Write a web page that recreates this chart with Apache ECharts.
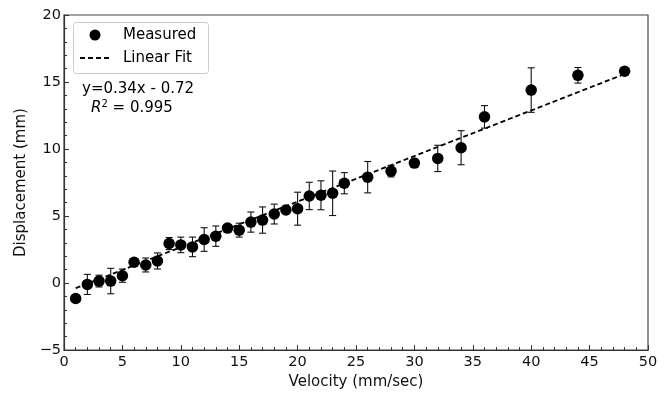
<!DOCTYPE html>
<html><head><meta charset="utf-8">
<script src="https://cdn.jsdelivr.net/npm/echarts@6/dist/echarts.min.js"></script>
<style>html,body{margin:0;padding:0;background:#fff}#c{width:667px;height:395px}</style>
</head><body><div id="c"></div>
<script>
var velocity = [1,2,3,4,5,6,7,8,9,10,11,12,13,14,15,16,17,18,19,20,21,22,23,24,26,28,30,32,34,36,40,44,48];
var displacement = [-1.15,-0.1,0.15,0.15,0.55,1.55,1.35,1.65,2.95,2.85,2.7,3.25,3.5,4.1,3.95,4.55,4.7,5.15,5.45,5.55,6.5,6.55,6.7,7.45,7.9,8.35,8.95,9.3,10.1,12.4,14.4,15.5,15.8];
var errors = [0.2,0.75,0.44,0.95,0.49,0.12,0.52,0.6,0.45,0.58,0.73,0.88,0.76,0.27,0.52,0.75,0.98,0.74,0.2,1.23,1.02,1.08,1.66,0.79,1.17,0.43,0.2,0.98,1.27,0.84,1.66,0.58,0.15];
var fitX = [1, 48];
var fitY = [-0.38, 15.6];
var legendNames = ['Measured', 'Linear Fit'];
var fitLabel = 'y=0.34x - 0.72';
var r2Label = '0.995';

var font = 'DejaVu Sans';
var chart = echarts.init(document.getElementById('c'));
var pts = velocity.map(function(v,i){return [v, displacement[i]];});
var errData = velocity.map(function(v,i){return [v, displacement[i]-errors[i], displacement[i]+errors[i]];});
var fitData = fitX.map(function(v,i){return [v, fitY[i]];});
chart.setOption({
  animation:false,
  textStyle:{fontFamily:font},
  grid:{left:64,top:15,right:19,bottom:41,show:true,borderColor:'#444',borderWidth:1.2,backgroundColor:'transparent'},
  xAxis:{type:'value',min:0,max:50,interval:5,
    name:'Velocity (mm/sec)',nameLocation:'middle',nameGap:22,
    nameTextStyle:{fontFamily:font,fontSize:15,color:'#111'},
    axisLine:{onZero:false,lineStyle:{color:'#333',width:1.2}},
    axisTick:{inside:true,length:5,lineStyle:{color:'#333'}},
    minorTick:{show:true,splitNumber:5,length:3,lineStyle:{color:'#333'}},
    splitLine:{show:false},
    axisLabel:{fontFamily:font,fontSize:14.5,color:'#111',margin:5}
  },
  yAxis:{type:'value',min:-5,max:20,interval:5,
    name:'Displacement (mm)',nameLocation:'middle',nameGap:28,
    nameTextStyle:{fontFamily:font,fontSize:15,color:'#111'},
    axisLine:{onZero:false,lineStyle:{color:'#333',width:1.2}},
    axisTick:{inside:true,length:5,lineStyle:{color:'#333'}},
    minorTick:{show:true,splitNumber:5,length:3,lineStyle:{color:'#333'}},
    splitLine:{show:false},
    axisLabel:{fontFamily:font,fontSize:14.5,color:'#111',margin:3,
      formatter:function(v){return v<0?'\u2212'+Math.abs(v):String(v);}}
  },
  series:[
    {name:legendNames[1],type:'line',data:fitData,showSymbol:false,symbol:'none',
     lineStyle:{color:'#000',width:1.8,type:[5,3]},itemStyle:{color:'#000'},z:3},
    {name:'Errors',type:'custom',data:errData,z:4,
     renderItem:function(params,api){
       var x=api.value(0), lo=api.coord([x,api.value(1)]), hi=api.coord([x,api.value(2)]);
       var cw=3.5, st={stroke:'#111',lineWidth:1.1};
       return {type:'group',children:[
         {type:'line',shape:{x1:lo[0],y1:lo[1],x2:hi[0],y2:hi[1]},style:st},
         {type:'line',shape:{x1:lo[0]-cw,y1:lo[1],x2:lo[0]+cw,y2:lo[1]},style:st},
         {type:'line',shape:{x1:hi[0]-cw,y1:hi[1],x2:hi[0]+cw,y2:hi[1]},style:st}
       ]};
     }},
    {name:legendNames[0],type:'scatter',data:pts,symbol:'circle',symbolSize:11.5,
     itemStyle:{color:'#000',opacity:1},z:5}
  ],
  graphic:[
    {type:'rect',shape:{x:73.5,y:22.5,width:135,height:51,r:3},style:{fill:'rgba(255,255,255,0.85)',stroke:'#ccc',lineWidth:1},z:10},
    {type:'circle',shape:{cx:95,cy:35,r:5.5},style:{fill:'#000'},z:11},
    {type:'line',shape:{x1:80,y1:58,x2:109,y2:58},style:{stroke:'#000',lineWidth:1.8,lineDash:[5,3]},z:11},
    {type:'text',x:123,y:35,style:{text:legendNames[0],font:'15px "DejaVu Sans"',fill:'#000',verticalAlign:'middle'},z:11},
    {type:'text',x:123,y:58,style:{text:legendNames[1],font:'15px "DejaVu Sans"',fill:'#000',verticalAlign:'middle'},z:11},
    {type:'text',left:82,top:82,style:{text:fitLabel,font:'15px "DejaVu Sans"',fill:'#000'}},
    {type:'text',left:91,top:99,style:{
      text:'{i|R}{s|2} = '+r2Label,
      rich:{i:{fontFamily:font,fontSize:15,fontStyle:'italic',color:'#000'},
            s:{fontFamily:font,fontSize:10,color:'#000',padding:[0,0,8,0]}},
      font:'15px "DejaVu Sans"',fill:'#000'}}
  ]
});
</script></body></html>
